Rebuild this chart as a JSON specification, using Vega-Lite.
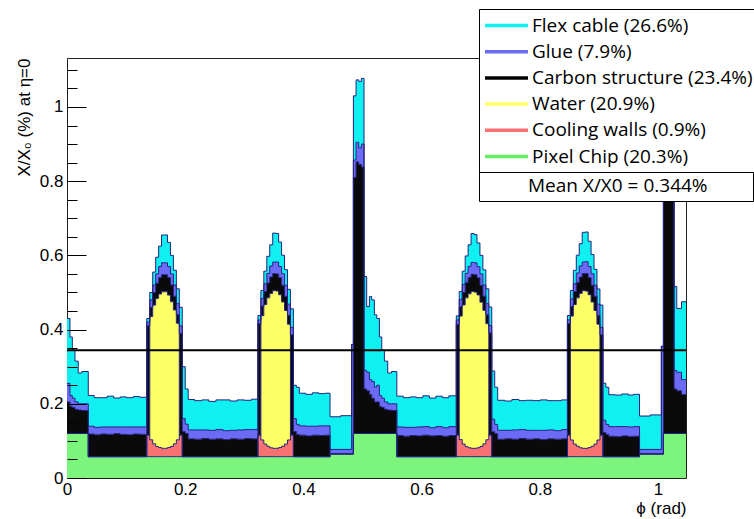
{
  "$schema": "https://vega.github.io/schema/vega-lite/v6.json",
  "autosize": {"type": "none"},
  "padding": {"left": 67, "top": 58, "right": 68, "bottom": 41},
  "width": 619,
  "height": 420,
  "background": "white",
  "config": {
    "font": "Liberation Sans",
    "view": {"stroke": "#222222", "strokeWidth": 1},
    "axis": {"labelColor": "black", "titleColor": "black", "tickColor": "black", "grid": false}
  },
  "data": {"values": [
    {"p": 0.000, "a": 0.175, "b": 0.050, "c": 0.085, "d": 0, "e": 0, "f": 0.12},
    {"p": 0.005, "a": 0.158, "b": 0.029, "c": 0.073, "d": 0, "e": 0, "f": 0.12},
    {"p": 0.009, "a": 0.130, "b": 0.025, "c": 0.070, "d": 0, "e": 0, "f": 0.12},
    {"p": 0.0135, "a": 0.110, "b": 0.020, "c": 0.065, "d": 0, "e": 0, "f": 0.12},
    {"p": 0.019, "a": 0.083, "b": 0.017, "c": 0.063, "d": 0, "e": 0, "f": 0.12},
    {"p": 0.025, "a": 0.087, "b": 0.018, "c": 0.062, "d": 0, "e": 0, "f": 0.12},
    {"p": 0.036, "a": 0.083, "b": 0.021, "c": 0.061, "d": 0, "e": 0, "f": 0.0575},
    {"p": 0.046, "a": 0.080, "b": 0.020, "c": 0.059, "d": 0, "e": 0, "f": 0.0575},
    {"p": 0.057, "a": 0.079, "b": 0.019, "c": 0.061, "d": 0, "e": 0, "f": 0.0575},
    {"p": 0.068, "a": 0.083, "b": 0.020, "c": 0.060, "d": 0, "e": 0, "f": 0.0575},
    {"p": 0.079, "a": 0.078, "b": 0.018, "c": 0.062, "d": 0, "e": 0, "f": 0.0575},
    {"p": 0.090, "a": 0.081, "b": 0.020, "c": 0.060, "d": 0, "e": 0, "f": 0.0575},
    {"p": 0.101, "a": 0.079, "b": 0.021, "c": 0.059, "d": 0, "e": 0, "f": 0.0575},
    {"p": 0.112, "a": 0.082, "b": 0.019, "c": 0.061, "d": 0, "e": 0, "f": 0.0575},
    {"p": 0.123, "a": 0.080, "b": 0.020, "c": 0.060, "d": 0, "e": 0, "f": 0.0575},
    {"p": 0.135, "a": 0.010, "b": 0.010, "c": 0.294, "d": 0, "e": 0.0585, "f": 0.0575},
    {"p": 0.140, "a": 0.020, "b": 0.020, "c": 0.025, "d": 0.332, "e": 0.0455, "f": 0.0575},
    {"p": 0.145, "a": 0.035, "b": 0.020, "c": 0.034, "d": 0.374, "e": 0.0345, "f": 0.0575},
    {"p": 0.150, "a": 0.045, "b": 0.025, "c": 0.041, "d": 0.399, "e": 0.0275, "f": 0.0575},
    {"p": 0.155, "a": 0.055, "b": 0.030, "c": 0.044, "d": 0.414, "e": 0.0245, "f": 0.0575},
    {"p": 0.160, "a": 0.075, "b": 0.032, "c": 0.046, "d": 0.422, "e": 0.0225, "f": 0.0575},
    {"p": 0.165, "a": 0.075, "b": 0.032, "c": 0.046, "d": 0.422, "e": 0.0225, "f": 0.0575},
    {"p": 0.170, "a": 0.065, "b": 0.030, "c": 0.047, "d": 0.411, "e": 0.0245, "f": 0.0575},
    {"p": 0.175, "a": 0.050, "b": 0.030, "c": 0.045, "d": 0.390, "e": 0.0275, "f": 0.0575},
    {"p": 0.180, "a": 0.040, "b": 0.030, "c": 0.037, "d": 0.361, "e": 0.0345, "f": 0.0575},
    {"p": 0.185, "a": 0.040, "b": 0.030, "c": 0.023, "d": 0.314, "e": 0.0455, "f": 0.0575},
    {"p": 0.190, "a": 0.050, "b": 0.020, "c": 0.274, "d": 0, "e": 0.0585, "f": 0.0575},
    {"p": 0.195, "a": 0.140, "b": 0.035, "c": 0.0675, "d": 0, "e": 0, "f": 0.0575},
    {"p": 0.200, "a": 0.095, "b": 0.025, "c": 0.0625, "d": 0, "e": 0, "f": 0.0575},
    {"p": 0.205, "a": 0.082, "b": 0.024, "c": 0.048, "d": 0, "e": 0, "f": 0.0575},
    {"p": 0.216, "a": 0.079, "b": 0.025, "c": 0.047, "d": 0, "e": 0, "f": 0.0575},
    {"p": 0.228, "a": 0.081, "b": 0.023, "c": 0.049, "d": 0, "e": 0, "f": 0.0575},
    {"p": 0.240, "a": 0.078, "b": 0.024, "c": 0.047, "d": 0, "e": 0, "f": 0.0575},
    {"p": 0.252, "a": 0.080, "b": 0.025, "c": 0.048, "d": 0, "e": 0, "f": 0.0575},
    {"p": 0.264, "a": 0.083, "b": 0.024, "c": 0.046, "d": 0, "e": 0, "f": 0.0575},
    {"p": 0.276, "a": 0.079, "b": 0.023, "c": 0.048, "d": 0, "e": 0, "f": 0.0575},
    {"p": 0.288, "a": 0.081, "b": 0.025, "c": 0.047, "d": 0, "e": 0, "f": 0.0575},
    {"p": 0.300, "a": 0.079, "b": 0.024, "c": 0.049, "d": 0, "e": 0, "f": 0.0575},
    {"p": 0.312, "a": 0.082, "b": 0.025, "c": 0.048, "d": 0, "e": 0, "f": 0.0575},
    {"p": 0.323, "a": 0.012, "b": 0.010, "c": 0.300, "d": 0, "e": 0.0585, "f": 0.0575},
    {"p": 0.328, "a": 0.022, "b": 0.020, "c": 0.026, "d": 0.335, "e": 0.045, "f": 0.0575},
    {"p": 0.333, "a": 0.034, "b": 0.021, "c": 0.035, "d": 0.376, "e": 0.034, "f": 0.0575},
    {"p": 0.338, "a": 0.046, "b": 0.026, "c": 0.040, "d": 0.400, "e": 0.028, "f": 0.0575},
    {"p": 0.343, "a": 0.057, "b": 0.030, "c": 0.044, "d": 0.416, "e": 0.024, "f": 0.0575},
    {"p": 0.348, "a": 0.078, "b": 0.031, "c": 0.046, "d": 0.425, "e": 0.0225, "f": 0.0575},
    {"p": 0.353, "a": 0.077, "b": 0.032, "c": 0.046, "d": 0.424, "e": 0.0225, "f": 0.0575},
    {"p": 0.358, "a": 0.066, "b": 0.030, "c": 0.046, "d": 0.412, "e": 0.0245, "f": 0.0575},
    {"p": 0.363, "a": 0.050, "b": 0.031, "c": 0.045, "d": 0.389, "e": 0.028, "f": 0.0575},
    {"p": 0.368, "a": 0.042, "b": 0.030, "c": 0.038, "d": 0.360, "e": 0.034, "f": 0.0575},
    {"p": 0.373, "a": 0.040, "b": 0.030, "c": 0.024, "d": 0.312, "e": 0.045, "f": 0.0575},
    {"p": 0.378, "a": 0.050, "b": 0.020, "c": 0.270, "d": 0, "e": 0.0585, "f": 0.0575},
    {"p": 0.383, "a": 0.090, "b": 0.035, "c": 0.0675, "d": 0, "e": 0, "f": 0.0575},
    {"p": 0.388, "a": 0.100, "b": 0.027, "c": 0.060, "d": 0, "e": 0, "f": 0.0575},
    {"p": 0.393, "a": 0.088, "b": 0.025, "c": 0.058, "d": 0, "e": 0, "f": 0.0575},
    {"p": 0.404, "a": 0.086, "b": 0.026, "c": 0.056, "d": 0, "e": 0, "f": 0.0575},
    {"p": 0.415, "a": 0.090, "b": 0.024, "c": 0.058, "d": 0, "e": 0, "f": 0.0575},
    {"p": 0.426, "a": 0.087, "b": 0.026, "c": 0.057, "d": 0, "e": 0, "f": 0.0575},
    {"p": 0.436, "a": 0.088, "b": 0.025, "c": 0.058, "d": 0, "e": 0, "f": 0.0575},
    {"p": 0.445, "a": 0.088, "b": 0.012, "c": 0, "d": 0, "e": 0, "f": 0.065},
    {"p": 0.463, "a": 0.091, "b": 0.012, "c": 0, "d": 0, "e": 0, "f": 0.065},
    {"p": 0.4815, "a": 0, "b": 0.295, "c": 0, "d": 0, "e": 0, "f": 0.065},
    {"p": 0.4845, "a": 0.173, "b": 0.047, "c": 0.690, "d": 0, "e": 0, "f": 0.12},
    {"p": 0.489, "a": 0.168, "b": 0.053, "c": 0.732, "d": 0, "e": 0, "f": 0.12},
    {"p": 0.4935, "a": 0.179, "b": 0.045, "c": 0.725, "d": 0, "e": 0, "f": 0.12},
    {"p": 0.498, "a": 0.177, "b": 0.062, "c": 0.718, "d": 0, "e": 0, "f": 0.12},
    {"p": 0.5025, "a": 0.253, "b": 0.050, "c": 0.120, "d": 0, "e": 0, "f": 0.12},
    {"p": 0.507, "a": 0.177, "b": 0.050, "c": 0.115, "d": 0, "e": 0, "f": 0.12},
    {"p": 0.5116, "a": 0.224, "b": 0.040, "c": 0.105, "d": 0, "e": 0, "f": 0.12},
    {"p": 0.5155, "a": 0.220, "b": 0.045, "c": 0.095, "d": 0, "e": 0, "f": 0.12},
    {"p": 0.520, "a": 0.195, "b": 0.040, "c": 0.085, "d": 0, "e": 0, "f": 0.12},
    {"p": 0.524, "a": 0.180, "b": 0.045, "c": 0.085, "d": 0, "e": 0, "f": 0.12},
    {"p": 0.5285, "a": 0.158, "b": 0.029, "c": 0.073, "d": 0, "e": 0, "f": 0.12},
    {"p": 0.5325, "a": 0.130, "b": 0.025, "c": 0.070, "d": 0, "e": 0, "f": 0.12},
    {"p": 0.537, "a": 0.110, "b": 0.020, "c": 0.065, "d": 0, "e": 0, "f": 0.12},
    {"p": 0.5426, "a": 0.083, "b": 0.017, "c": 0.063, "d": 0, "e": 0, "f": 0.12},
    {"p": 0.549, "a": 0.087, "b": 0.018, "c": 0.062, "d": 0, "e": 0, "f": 0.12},
    {"p": 0.558, "a": 0.083, "b": 0.023, "c": 0.057, "d": 0, "e": 0, "f": 0.0575},
    {"p": 0.569, "a": 0.080, "b": 0.024, "c": 0.055, "d": 0, "e": 0, "f": 0.0575},
    {"p": 0.580, "a": 0.082, "b": 0.022, "c": 0.057, "d": 0, "e": 0, "f": 0.0575},
    {"p": 0.591, "a": 0.079, "b": 0.024, "c": 0.056, "d": 0, "e": 0, "f": 0.0575},
    {"p": 0.602, "a": 0.083, "b": 0.023, "c": 0.058, "d": 0, "e": 0, "f": 0.0575},
    {"p": 0.613, "a": 0.080, "b": 0.022, "c": 0.056, "d": 0, "e": 0, "f": 0.0575},
    {"p": 0.624, "a": 0.082, "b": 0.024, "c": 0.057, "d": 0, "e": 0, "f": 0.0575},
    {"p": 0.635, "a": 0.081, "b": 0.023, "c": 0.055, "d": 0, "e": 0, "f": 0.0575},
    {"p": 0.646, "a": 0.083, "b": 0.024, "c": 0.057, "d": 0, "e": 0, "f": 0.0575},
    {"p": 0.6586, "a": 0.011, "b": 0.012, "c": 0.298, "d": 0, "e": 0.0585, "f": 0.0575},
    {"p": 0.6636, "a": 0.021, "b": 0.020, "c": 0.025, "d": 0.333, "e": 0.046, "f": 0.0575},
    {"p": 0.6686, "a": 0.036, "b": 0.021, "c": 0.034, "d": 0.375, "e": 0.034, "f": 0.0575},
    {"p": 0.6736, "a": 0.047, "b": 0.025, "c": 0.041, "d": 0.401, "e": 0.027, "f": 0.0575},
    {"p": 0.6786, "a": 0.058, "b": 0.030, "c": 0.044, "d": 0.415, "e": 0.024, "f": 0.0575},
    {"p": 0.6836, "a": 0.078, "b": 0.032, "c": 0.046, "d": 0.423, "e": 0.0225, "f": 0.0575},
    {"p": 0.6886, "a": 0.076, "b": 0.032, "c": 0.047, "d": 0.421, "e": 0.0225, "f": 0.0575},
    {"p": 0.6936, "a": 0.064, "b": 0.030, "c": 0.046, "d": 0.412, "e": 0.024, "f": 0.0575},
    {"p": 0.6986, "a": 0.050, "b": 0.031, "c": 0.045, "d": 0.389, "e": 0.0275, "f": 0.0575},
    {"p": 0.7036, "a": 0.041, "b": 0.030, "c": 0.038, "d": 0.360, "e": 0.0345, "f": 0.0575},
    {"p": 0.7086, "a": 0.040, "b": 0.030, "c": 0.024, "d": 0.313, "e": 0.0455, "f": 0.0575},
    {"p": 0.7136, "a": 0.050, "b": 0.020, "c": 0.275, "d": 0, "e": 0.0585, "f": 0.0575},
    {"p": 0.7186, "a": 0.130, "b": 0.034, "c": 0.067, "d": 0, "e": 0, "f": 0.0575},
    {"p": 0.7236, "a": 0.100, "b": 0.025, "c": 0.062, "d": 0, "e": 0, "f": 0.0575},
    {"p": 0.7286, "a": 0.081, "b": 0.024, "c": 0.047, "d": 0, "e": 0, "f": 0.0575},
    {"p": 0.7406, "a": 0.079, "b": 0.023, "c": 0.048, "d": 0, "e": 0, "f": 0.0575},
    {"p": 0.7526, "a": 0.082, "b": 0.025, "c": 0.047, "d": 0, "e": 0, "f": 0.0575},
    {"p": 0.7646, "a": 0.078, "b": 0.024, "c": 0.049, "d": 0, "e": 0, "f": 0.0575},
    {"p": 0.7766, "a": 0.081, "b": 0.024, "c": 0.047, "d": 0, "e": 0, "f": 0.0575},
    {"p": 0.7886, "a": 0.080, "b": 0.023, "c": 0.048, "d": 0, "e": 0, "f": 0.0575},
    {"p": 0.8006, "a": 0.082, "b": 0.025, "c": 0.046, "d": 0, "e": 0, "f": 0.0575},
    {"p": 0.8126, "a": 0.079, "b": 0.024, "c": 0.048, "d": 0, "e": 0, "f": 0.0575},
    {"p": 0.8246, "a": 0.081, "b": 0.023, "c": 0.047, "d": 0, "e": 0, "f": 0.0575},
    {"p": 0.8366, "a": 0.080, "b": 0.025, "c": 0.048, "d": 0, "e": 0, "f": 0.0575},
    {"p": 0.8466, "a": 0.012, "b": 0.010, "c": 0.300, "d": 0, "e": 0.0585, "f": 0.0575},
    {"p": 0.8516, "a": 0.023, "b": 0.020, "c": 0.026, "d": 0.334, "e": 0.045, "f": 0.0575},
    {"p": 0.8566, "a": 0.036, "b": 0.021, "c": 0.035, "d": 0.376, "e": 0.034, "f": 0.0575},
    {"p": 0.8616, "a": 0.048, "b": 0.026, "c": 0.041, "d": 0.400, "e": 0.028, "f": 0.0575},
    {"p": 0.8666, "a": 0.060, "b": 0.030, "c": 0.044, "d": 0.416, "e": 0.024, "f": 0.0575},
    {"p": 0.8716, "a": 0.080, "b": 0.031, "c": 0.046, "d": 0.425, "e": 0.0225, "f": 0.0575},
    {"p": 0.8766, "a": 0.080, "b": 0.032, "c": 0.047, "d": 0.424, "e": 0.0225, "f": 0.0575},
    {"p": 0.8816, "a": 0.068, "b": 0.030, "c": 0.046, "d": 0.412, "e": 0.0245, "f": 0.0575},
    {"p": 0.8866, "a": 0.052, "b": 0.031, "c": 0.045, "d": 0.389, "e": 0.028, "f": 0.0575},
    {"p": 0.8916, "a": 0.043, "b": 0.030, "c": 0.038, "d": 0.360, "e": 0.034, "f": 0.0575},
    {"p": 0.8966, "a": 0.041, "b": 0.030, "c": 0.024, "d": 0.312, "e": 0.045, "f": 0.0575},
    {"p": 0.9016, "a": 0.060, "b": 0.020, "c": 0.270, "d": 0, "e": 0.0585, "f": 0.0575},
    {"p": 0.9066, "a": 0.100, "b": 0.033, "c": 0.065, "d": 0, "e": 0, "f": 0.0575},
    {"p": 0.9116, "a": 0.100, "b": 0.027, "c": 0.060, "d": 0, "e": 0, "f": 0.0575},
    {"p": 0.9166, "a": 0.086, "b": 0.026, "c": 0.055, "d": 0, "e": 0, "f": 0.0575},
    {"p": 0.9276, "a": 0.085, "b": 0.027, "c": 0.054, "d": 0, "e": 0, "f": 0.0575},
    {"p": 0.9386, "a": 0.088, "b": 0.025, "c": 0.056, "d": 0, "e": 0, "f": 0.0575},
    {"p": 0.9496, "a": 0.086, "b": 0.026, "c": 0.054, "d": 0, "e": 0, "f": 0.0575},
    {"p": 0.9586, "a": 0.087, "b": 0.026, "c": 0.055, "d": 0, "e": 0, "f": 0.0575},
    {"p": 0.9686, "a": 0.090, "b": 0.012, "c": 0, "d": 0, "e": 0, "f": 0.065},
    {"p": 0.9866, "a": 0.093, "b": 0.012, "c": 0, "d": 0, "e": 0, "f": 0.065},
    {"p": 1.0055, "a": 0, "b": 0.290, "c": 0, "d": 0, "e": 0, "f": 0.065},
    {"p": 1.009, "a": 0.170, "b": 0.047, "c": 0.690, "d": 0, "e": 0, "f": 0.12},
    {"p": 1.0135, "a": 0.170, "b": 0.050, "c": 0.730, "d": 0, "e": 0, "f": 0.12},
    {"p": 1.018, "a": 0.180, "b": 0.045, "c": 0.725, "d": 0, "e": 0, "f": 0.12},
    {"p": 1.0225, "a": 0.178, "b": 0.060, "c": 0.720, "d": 0, "e": 0, "f": 0.12},
    {"p": 1.027, "a": 0.226, "b": 0.050, "c": 0.120, "d": 0, "e": 0, "f": 0.12},
    {"p": 1.0316, "a": 0.172, "b": 0.050, "c": 0.115, "d": 0, "e": 0, "f": 0.12},
    {"p": 1.0396, "a": 0.210, "b": 0.040, "c": 0.105, "d": 0, "e": 0, "f": 0.12},
    {"p": 1.0472, "a": 0.210, "b": 0.040, "c": 0.105, "d": 0, "e": 0, "f": 0.12}
  ]},
  "layer": [
    {
      "transform": [{"fold": ["a", "b", "c", "d", "e", "f"], "as": ["key", "val"]}],
      "mark": {"type": "area", "interpolate": "step-after"},
      "encoding": {
        "x": {"field": "p", "type": "quantitative",
          "scale": {"domain": [0, 1.0472], "nice": false, "zero": false},
          "axis": {"values": [0, 0.2, 0.4, 0.6, 0.8, 1], "format": "~g", "ticks": false, "domain": false,
            "labelFontSize": 17, "labelPadding": 3, "labelFlush": false,
            "title": "ϕ (rad)", "titleAnchor": "end", "titleFontSize": 17, "titleFontWeight": "normal", "titlePadding": 3}},
        "y": {"field": "val", "type": "quantitative", "stack": "zero",
          "scale": {"domain": [0, 1.132], "nice": false, "zero": true},
          "axis": {"values": [0, 0.2, 0.4, 0.6, 0.8, 1], "format": "~g", "tickSize": -19, "labelPadding": 23,
            "domain": false, "zindex": 1, "labelFontSize": 17,
            "title": "X/X₀ (%) at η=0", "titleAnchor": "end", "titleFontSize": 17, "titleFontWeight": "normal", "titlePadding": 6}},
        "color": {"field": "key", "type": "nominal",
          "scale": {"domain": ["f", "e", "d", "c", "b", "a"], "range": ["#7cf57c", "#f87272", "#ffff66", "#0a0a0a", "#6b6bf5", "#11f0f0"]},
          "legend": null}
      }
    },
    {
      "transform": [{"fold": ["a", "b", "c", "d", "e", "f"], "as": ["key", "val"]}],
      "mark": {"type": "line", "interpolate": "step-after", "stroke": "#23237f", "strokeWidth": 1},
      "encoding": {
        "x": {"field": "p", "type": "quantitative"},
        "y": {"field": "val", "type": "quantitative", "stack": "zero", "axis": null},
        "detail": {"field": "key", "type": "nominal"}
      }
    },
    {
      "transform": [{"fold": ["a", "b", "c", "d", "e", "f"], "as": ["key", "val"]}, {"filter": "datum.p == 0"}],
      "mark": {"type": "line", "strokeWidth": 3},
      "encoding": {
        "x": {"field": "p", "type": "quantitative"},
        "y": {"field": "val", "type": "quantitative", "axis": null},
        "stroke": {"field": "key", "type": "nominal",
          "scale": {"domain": ["a", "b", "c", "d", "e", "f"], "range": ["#11f0f0", "#6b6bf5", "#000000", "#ffff66", "#f87272", "#66ee66"]},
          "legend": {
            "orient": "none", "legendX": 412, "legendY": -49, "title": null,
            "symbolType": "stroke", "symbolSize": 1849, "symbolStrokeWidth": 3.5,
            "labelFont": "Open Sans", "labelFontSize": 19, "labelColor": "black", "labelOffset": 2, "labelLimit": 500,
            "clipHeight": 25, "rowPadding": 1.2, "padding": 4,
            "strokeColor": "black", "fillColor": "white", "cornerRadius": 0,
            "labelExpr": "datum.label == 'a' ? 'Flex cable (26.6%)' : datum.label == 'b' ? 'Glue (7.9%)' : datum.label == 'c' ? 'Carbon structure (23.4%)' : datum.label == 'd' ? 'Water (20.9%)' : datum.label == 'e' ? 'Cooling walls (0.9%)' : 'Pixel Chip (20.3%)'"
          }
        }
      }
    },
    {
      "data": {"values": [{"m": 0.344, "lab": "Mean X/X0 = 0.344%"}]},
      "mark": {"type": "rule", "color": "black", "strokeWidth": 2},
      "encoding": {
        "y": {"field": "m", "type": "quantitative",
          "axis": {"orient": "left", "values": [0.05, 0.1, 0.15, 0.2, 0.25, 0.3, 0.35, 0.4, 0.45, 0.5, 0.55, 0.6, 0.65, 0.7, 0.75, 0.8, 0.85, 0.9, 0.95, 1, 1.05, 1.1],
            "tickSize": -10, "labels": false, "domain": false, "title": null, "zindex": 1}},
        "strokeDash": {"field": "lab", "type": "nominal", "scale": {"range": [[1, 0]]},
          "legend": {
            "orient": "none", "legendX": 412, "legendY": 114, "title": null,
            "symbolType": "stroke", "symbolSize": 1849, "symbolOpacity": 0,
            "labelFont": "Open Sans", "labelFontSize": 19, "labelColor": "black", "labelOffset": -1, "labelLimit": 500,
            "clipHeight": 18, "padding": 5,
            "strokeColor": "black", "fillColor": "white", "cornerRadius": 0,
            "labelExpr": "datum.label + '\u00a0\u00a0\u00a0\u00a0\u00a0\u00a0\u00a0\u00a0\u200b'"
          }
        }
      }
    }
  ],
  "resolve": {"axis": {"y": "independent"}}
}
